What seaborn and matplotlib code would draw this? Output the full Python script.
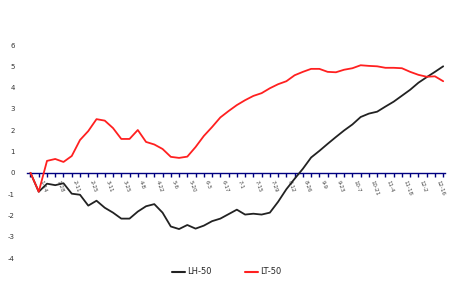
import numpy as np
import pandas as pd
import seaborn as sns
import matplotlib
matplotlib.use('Agg')
import matplotlib.pyplot as plt
from matplotlib.lines import Line2D

sns.set_style('white')
plt.rcParams['font.family'] = ['DejaVu Sans']

# weekly dates used as the category axis
dates = pd.date_range('2005-01-07', periods=51, freq='7D')
x_labels = [f'{d.month}-{d.day}' for d in dates]

# the two series
lh50 = [0, -0.89, -0.51, -0.58, -0.49, -0.98, -1.03, -1.54, -1.31, -1.64,
        -1.87, -2.15, -2.15, -1.82, -1.57, -1.47, -1.87, -2.52, -2.64, -2.45,
        -2.62, -2.48, -2.27, -2.15, -1.94, -1.73, -1.96, -1.92, -1.96, -1.87,
        -1.36, -0.77, -0.28, 0.19, 0.72, 1.03, 1.36, 1.68, 1.99, 2.27,
        2.62, 2.78, 2.87, 3.11, 3.34, 3.62, 3.90, 4.23, 4.49, 4.74, 5.00]
lt50 = [0, -0.89, 0.56, 0.65, 0.51, 0.79, 1.54, 1.96, 2.52, 2.45,
        2.10, 1.59, 1.59, 2.01, 1.45, 1.33, 1.12, 0.75, 0.70, 0.76,
        1.21, 1.73, 2.15, 2.60, 2.90, 3.18, 3.41, 3.61, 3.74, 3.97,
        4.16, 4.30, 4.58, 4.74, 4.88, 4.88, 4.74, 4.72, 4.84, 4.91,
        5.05, 5.02, 5.00, 4.93, 4.93, 4.91, 4.74, 4.60, 4.51, 4.53, 4.30]
y_ticks = [6, 5, 4, 3, 2, 1, 0, -1, -2, -3, -4]

df = pd.DataFrame({
    'idx': list(range(len(dates))) * 2,
    'value': lh50 + lt50,
    'series': ['LH-50'] * len(lh50) + ['LT-50'] * len(lt50),
})

fig = plt.figure(figsize=(4.53, 2.84), dpi=100)
ax = fig.add_axes([0.06, 0.0915, 0.922, 0.75])
sns.lineplot(data=df, x='idx', y='value', hue='series',
             palette={'LH-50': '#222222', 'LT-50': '#ff2020'},
             linewidth=1.3, ax=ax, legend=False, zorder=3)

ax.set_ylim(-4, 6)
ax.set_xlim(-0.4, len(dates) - 1 + 0.2)
ax.set_yticks(y_ticks)
ax.set_yticklabels([str(v) for v in y_ticks], fontsize=5, color='#333333')
ax.tick_params(axis='y', length=2, width=1.5, color='#7777bb', pad=7)

for s in ['top', 'right', 'left']:
    ax.spines[s].set_visible(False)
# category axis sits on the zero line
ax.spines['bottom'].set_position(('data', 0))
ax.spines['bottom'].set_color('#000080')
ax.spines['bottom'].set_linewidth(1.0)
ax.spines['bottom'].set_zorder(1)

ax.set_xticks(range(len(dates)))
ax.set_xticklabels([lab if i % 2 == 1 else '' for i, lab in enumerate(x_labels)],
                   fontsize=4, color='#444444', rotation=-70, ha='left')
ax.tick_params(axis='x', bottom=True, length=3, width=1.0, color='#000080',
               direction='out', pad=2)
ax.set_xlabel('')
ax.set_ylabel('')

handles = [Line2D([], [], color='#222222', linewidth=1.5),
           Line2D([], [], color='#ff2020', linewidth=1.5)]
fig.legend(handles, ['LH-50', 'LT-50'], loc='lower center', ncol=2,
           bbox_to_anchor=(0.5, 0.0), frameon=False, fontsize=6,
           handlelength=1.6, handletextpad=0.2, columnspacing=4)

fig.savefig('out.png', dpi=100)
